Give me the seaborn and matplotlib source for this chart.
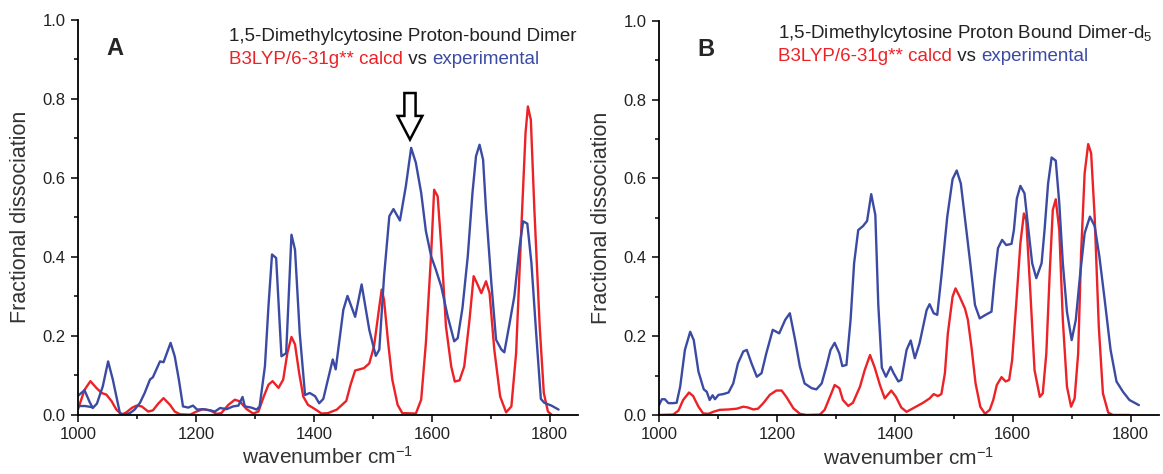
import numpy as np
import pandas as pd
import matplotlib
matplotlib.use("Agg")
import matplotlib.pyplot as plt
import matplotlib.patches as mpatches
from matplotlib.ticker import MultipleLocator
import seaborn as sns

# Panel A: 1,5-dimethylcytosine proton-bound dimer
exp_A_x = [1000, 1011, 1020, 1025, 1032, 1042, 1051, 1059, 1071, 1079,
           1088, 1096, 1105, 1113, 1122, 1127, 1139, 1145, 1157, 1164,
           1171, 1178, 1187, 1195, 1202, 1212, 1224, 1232, 1241, 1252,
           1263, 1272, 1279, 1283, 1294, 1303, 1308, 1317, 1323, 1329,
           1336, 1345, 1353, 1362, 1368, 1376, 1385, 1393, 1402, 1409,
           1416, 1424, 1432, 1437, 1450, 1457, 1470, 1481, 1494, 1505,
           1511, 1519, 1528, 1535, 1546, 1556, 1565, 1573, 1582, 1590,
           1599, 1607, 1616, 1627, 1638, 1644, 1652, 1661, 1669, 1675,
           1681, 1687, 1692, 1701, 1709, 1718, 1723, 1732, 1740, 1749,
           1755, 1762, 1769, 1777, 1785, 1791, 1803, 1815]
exp_A_y = [0.048, 0.062, 0.031, 0.017, 0.028, 0.072, 0.135, 0.089, 0.004, 0.0,
           0.004, 0.013, 0.03, 0.055, 0.089, 0.095, 0.135, 0.133, 0.182, 0.148,
           0.089, 0.021, 0.018, 0.023, 0.013, 0.014, 0.011, 0.008, 0.017, 0.014,
           0.021, 0.023, 0.045, 0.021, 0.018, 0.013, 0.021, 0.123, 0.275, 0.406,
           0.397, 0.148, 0.156, 0.456, 0.418, 0.207, 0.05, 0.055, 0.047, 0.029,
           0.04, 0.09, 0.14, 0.115, 0.266, 0.301, 0.248, 0.33, 0.215, 0.149,
           0.165, 0.35, 0.503, 0.521, 0.492, 0.579, 0.676, 0.638, 0.562, 0.465,
           0.401, 0.367, 0.325, 0.249, 0.186, 0.194, 0.27, 0.401, 0.562, 0.655,
           0.684, 0.646, 0.519, 0.334, 0.19, 0.165, 0.158, 0.232, 0.3, 0.427,
           0.49, 0.484, 0.384, 0.207, 0.04, 0.03, 0.023, 0.013]
# short flat trace at the start of the experimental curve
exp_A_stub_x = [1000, 1012, 1024]
exp_A_stub_y = [0.022, 0.022, 0.019]

calc_A_x = [1000, 1011, 1021, 1031, 1040, 1048, 1057, 1065, 1074, 1082,
            1091, 1099, 1108, 1119, 1127, 1136, 1145, 1156, 1164, 1173,
            1190, 1201, 1212, 1224, 1235, 1243, 1255, 1266, 1274, 1286,
            1297, 1306, 1315, 1323, 1330, 1340, 1348, 1355, 1362, 1368,
            1375, 1382, 1390, 1402, 1413, 1424, 1439, 1455, 1462, 1470,
            1485, 1494, 1502, 1511, 1515, 1519, 1526, 1533, 1542, 1550,
            1573, 1582, 1590, 1599, 1604, 1610, 1616, 1624, 1633, 1639,
            1647, 1655, 1664, 1671, 1677, 1684, 1692, 1698, 1706, 1716,
            1726, 1735, 1743, 1752, 1759, 1763, 1768, 1774, 1783, 1790,
            1797, 1803]
calc_A_y = [0.014, 0.063, 0.085, 0.068, 0.055, 0.051, 0.034, 0.013, 0.0, 0.006,
            0.017, 0.023, 0.021, 0.008, 0.011, 0.028, 0.042, 0.025, 0.008, 0.001,
            0.0, 0.008, 0.014, 0.011, 0.002, 0.004, 0.025, 0.038, 0.034, 0.014,
            0.003, 0.008, 0.046, 0.076, 0.085, 0.068, 0.089, 0.156, 0.197, 0.178,
            0.106, 0.046, 0.025, 0.014, 0.003, 0.004, 0.013, 0.035, 0.075, 0.112,
            0.118, 0.13, 0.173, 0.274, 0.317, 0.291, 0.182, 0.089, 0.025, 0.004,
            0.003, 0.038, 0.182, 0.41, 0.57, 0.553, 0.427, 0.224, 0.122, 0.084,
            0.087, 0.122, 0.241, 0.351, 0.332, 0.308, 0.338, 0.308, 0.165, 0.046,
            0.006, 0.021, 0.156, 0.477, 0.714, 0.781, 0.747, 0.519, 0.224, 0.055,
            0.008, 0.0]

# Panel B: d5 isotopologue
exp_B_x = [1000, 1005, 1010, 1016, 1024, 1030, 1036, 1044, 1053, 1059,
           1067, 1076, 1081, 1086, 1091, 1095, 1101, 1109, 1118, 1126,
           1134, 1143, 1149, 1157, 1166, 1174, 1182, 1193, 1204, 1214,
           1222, 1231, 1239, 1247, 1259, 1267, 1276, 1284, 1291, 1298,
           1306, 1311, 1318, 1325, 1331, 1338, 1346, 1353, 1360, 1367,
           1372, 1378, 1385, 1393, 1398, 1406, 1411, 1420, 1427, 1434,
           1442, 1454, 1459, 1466, 1472, 1479, 1489, 1498, 1505, 1512,
           1520, 1528, 1536, 1544, 1554, 1564, 1569, 1575, 1582, 1589,
           1598, 1602, 1607, 1613, 1620, 1626, 1633, 1640, 1649, 1654,
           1660, 1666, 1673, 1679, 1685, 1692, 1700, 1707, 1714, 1722,
           1731, 1739, 1747, 1756, 1766, 1776, 1787, 1798, 1814]
exp_B_y = [0.025, 0.04, 0.04, 0.03, 0.03, 0.031, 0.072, 0.165, 0.211, 0.19,
           0.11, 0.065, 0.059, 0.038, 0.05, 0.04, 0.051, 0.053, 0.057, 0.08,
           0.131, 0.161, 0.165, 0.131, 0.097, 0.106, 0.156, 0.216, 0.207, 0.241,
           0.258, 0.19, 0.123, 0.08, 0.068, 0.065, 0.08, 0.123, 0.165, 0.183,
           0.156, 0.124, 0.127, 0.241, 0.385, 0.469, 0.479, 0.492, 0.56, 0.507,
           0.28, 0.12, 0.097, 0.122, 0.106, 0.085, 0.089, 0.165, 0.189, 0.144,
           0.182, 0.266, 0.281, 0.258, 0.254, 0.351, 0.503, 0.598, 0.62, 0.587,
           0.486, 0.385, 0.279, 0.245, 0.254, 0.262, 0.342, 0.423, 0.444, 0.431,
           0.434, 0.469, 0.549, 0.581, 0.562, 0.478, 0.385, 0.347, 0.385, 0.469,
           0.587, 0.653, 0.645, 0.537, 0.385, 0.262, 0.19, 0.241, 0.351, 0.461,
           0.503, 0.479, 0.402, 0.292, 0.165, 0.085, 0.059, 0.038, 0.025]

calc_B_x = [1000, 1024, 1033, 1041, 1051, 1058, 1067, 1075, 1084, 1092,
            1103, 1118, 1132, 1143, 1151, 1160, 1168, 1177, 1188, 1199,
            1208, 1216, 1228, 1239, 1250, 1273, 1281, 1290, 1298, 1306,
            1312, 1321, 1329, 1341, 1349, 1358, 1366, 1375, 1383, 1394,
            1402, 1411, 1420, 1431, 1448, 1459, 1466, 1473, 1479, 1485,
            1490, 1498, 1503, 1510, 1519, 1524, 1530, 1537, 1545, 1553,
            1561, 1567, 1573, 1581, 1588, 1594, 1599, 1606, 1613, 1619,
            1623, 1630, 1637, 1646, 1651, 1657, 1663, 1668, 1673, 1679,
            1685, 1692, 1699, 1705, 1711, 1716, 1722, 1728, 1733, 1739,
            1746, 1753, 1762, 1770, 1798]
calc_B_y = [0.0, 0.001, 0.011, 0.038, 0.057, 0.048, 0.021, 0.004, 0.003, 0.008,
            0.013, 0.014, 0.016, 0.021, 0.019, 0.014, 0.016, 0.03, 0.051, 0.062,
            0.062, 0.046, 0.017, 0.003, 0.0, 0.001, 0.013, 0.046, 0.076, 0.068,
            0.038, 0.023, 0.031, 0.072, 0.114, 0.152, 0.12, 0.075, 0.042, 0.062,
            0.046, 0.019, 0.008, 0.017, 0.031, 0.042, 0.053, 0.048, 0.053, 0.106,
            0.207, 0.3, 0.321, 0.3, 0.27, 0.241, 0.173, 0.08, 0.021, 0.003,
            0.013, 0.038, 0.076, 0.096, 0.085, 0.089, 0.139, 0.283, 0.435, 0.511,
            0.494, 0.309, 0.114, 0.046, 0.055, 0.156, 0.368, 0.52, 0.547, 0.469,
            0.241, 0.072, 0.021, 0.042, 0.156, 0.41, 0.613, 0.687, 0.664, 0.503,
            0.224, 0.055, 0.006, 0.0, 0.0]

RED = "#ec2227"
BLUE = "#3b4ba3"
TXT = "#222222"

sns.set_style("ticks")
plt.rcParams["font.family"] = ["Liberation Sans", "DejaVu Sans"]
plt.rcParams["mathtext.default"] = "regular"

fig = plt.figure(figsize=(11.63, 4.74), dpi=100)
axA = fig.add_axes([0.0671, 0.1251, 0.4299, 0.8327])
axB = fig.add_axes([0.5666, 0.1245, 0.4299, 0.8319])


def draw(ax, ex, ey, cx, cy):
    sns.lineplot(x=cx, y=cy, ax=ax, color=RED, lw=1.7, sort=False, estimator=None)
    sns.lineplot(x=ex, y=ey, ax=ax, color=BLUE, lw=1.7, sort=False, estimator=None)


draw(axA, exp_A_x, exp_A_y, calc_A_x, calc_A_y)
sns.lineplot(x=exp_A_stub_x, y=exp_A_stub_y, ax=axA, color=BLUE, lw=1.7,
             sort=False, estimator=None)
draw(axB, exp_B_x, exp_B_y, calc_B_x, calc_B_y)

for ax in (axA, axB):
    ax.set_xlim(1000, 1848)
    ax.set_ylim(0, 1.0)
    ax.xaxis.set_major_locator(MultipleLocator(200))
    ax.xaxis.set_minor_locator(MultipleLocator(100))
    ax.yaxis.set_major_locator(MultipleLocator(0.2))
    ax.yaxis.set_minor_locator(MultipleLocator(0.1))
    ax.yaxis.set_major_formatter(matplotlib.ticker.FormatStrFormatter("%.1f"))
    ax.tick_params(which="major", length=5, width=1.1, labelsize=12,
                   colors="black", labelcolor=TXT, pad=4)
    ax.tick_params(which="minor", length=3, width=1.1, colors="black")
    sns.despine(ax=ax)
    for s in ("left", "bottom"):
        ax.spines[s].set_linewidth(1.3)
        ax.spines[s].set_color("black")
    ax.set_xlabel("wavenumber cm$^{-1}$", fontsize=15, color="#333333", labelpad=3)
    ax.set_ylabel("Fractional dissociation", fontsize=15.5, color="#333333", labelpad=8)


def header(ax, x, y1, y2, line1):
    ax.text(x, y1, line1, fontsize=13.5, color=TXT, va="center", ha="left")
    t1 = ax.text(x, y2, "B3LYP/6-31g** calcd", fontsize=13.5, color=RED,
                 va="center", ha="left")
    t2 = ax.annotate(" vs ", xy=(1, 0), xycoords=t1, fontsize=13.5, color=TXT,
                     va="bottom", ha="left")
    ax.annotate("experimental", xy=(1, 0), xycoords=t2, fontsize=13.5, color=BLUE,
                va="bottom", ha="left")


header(axA, 1256, 0.958, 0.899, "1,5-Dimethylcytosine Proton-bound Dimer")
header(axB, 1202, 0.968, 0.909, "1,5-Dimethylcytosine Proton Bound Dimer-d$_5$")

axA.text(1063, 0.927, "A", fontsize=17, fontweight="bold", ha="center", va="center")
axB.text(1080, 0.928, "B", fontsize=17, fontweight="bold", ha="center", va="center")

# hollow arrow pointing at the experimental band near 1565
arrow = mpatches.FancyArrow(1563, 0.815, 0, -0.118, width=19, head_width=42,
                            head_length=0.06, length_includes_head=True,
                            facecolor="white", edgecolor="black", lw=1.8)
axA.add_patch(arrow)

fig.savefig("out.png", dpi=100)
